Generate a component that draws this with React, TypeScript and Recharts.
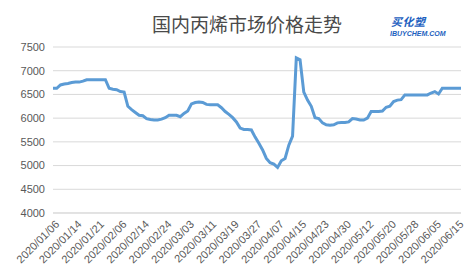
import React from "react";
import {
  LineChart,
  Line,
  XAxis,
  YAxis,
  CartesianGrid,
} from "recharts";

// trading days, 2020
const dates = [
  "2020/01/06", "2020/01/07", "2020/01/08", "2020/01/09", "2020/01/10", "2020/01/13",
  "2020/01/14", "2020/01/15", "2020/01/16", "2020/01/17", "2020/01/19", "2020/01/20",
  "2020/01/21", "2020/01/22", "2020/01/23", "2020/02/03", "2020/02/04", "2020/02/05",
  "2020/02/06", "2020/02/07", "2020/02/10", "2020/02/11", "2020/02/12", "2020/02/13",
  "2020/02/14", "2020/02/17", "2020/02/18", "2020/02/19", "2020/02/20", "2020/02/21",
  "2020/02/24", "2020/02/25", "2020/02/26", "2020/02/27", "2020/02/28", "2020/03/02",
  "2020/03/03", "2020/03/04", "2020/03/05", "2020/03/06", "2020/03/09", "2020/03/10",
  "2020/03/11", "2020/03/12", "2020/03/13", "2020/03/16", "2020/03/17", "2020/03/18",
  "2020/03/19", "2020/03/20", "2020/03/23", "2020/03/24", "2020/03/25", "2020/03/26",
  "2020/03/27", "2020/03/30", "2020/03/31", "2020/04/01", "2020/04/02", "2020/04/03",
  "2020/04/07", "2020/04/08", "2020/04/09", "2020/04/10", "2020/04/13", "2020/04/14",
  "2020/04/15", "2020/04/16", "2020/04/17", "2020/04/20", "2020/04/21", "2020/04/22",
  "2020/04/23", "2020/04/24", "2020/04/26", "2020/04/27", "2020/04/28", "2020/04/29",
  "2020/04/30", "2020/05/06", "2020/05/07", "2020/05/08", "2020/05/09", "2020/05/11",
  "2020/05/12", "2020/05/13", "2020/05/14", "2020/05/15", "2020/05/18", "2020/05/19",
  "2020/05/20", "2020/05/21", "2020/05/22", "2020/05/25", "2020/05/26", "2020/05/27",
  "2020/05/28", "2020/05/29", "2020/06/01", "2020/06/02", "2020/06/03", "2020/06/04",
  "2020/06/05", "2020/06/08", "2020/06/09", "2020/06/10", "2020/06/11", "2020/06/12",
  "2020/06/15", "2020/06/16",
];

// 丙烯价格 (元/吨)
const prices = [
  6630, 6630, 6700, 6720, 6730, 6750, 6760, 6760, 6780, 6810,
  6810, 6810, 6810, 6810, 6810, 6630, 6610, 6600, 6560, 6550,
  6250, 6180, 6120, 6060, 6050, 5990, 5970, 5960, 5960, 5980,
  6010, 6060, 6060, 6060, 6030, 6100, 6150, 6300, 6330, 6340,
  6330, 6290, 6280, 6280, 6280, 6220, 6140, 6080, 6010, 5920,
  5790, 5760, 5760, 5750, 5600, 5470, 5330, 5150, 5060, 5030,
  4960, 5100, 5150, 5430, 5620, 7270, 7230, 6550, 6380, 6250,
  6010, 5990, 5900, 5860, 5850, 5860, 5900, 5910, 5910, 5920,
  5990, 5980, 5960, 5960, 6000, 6140, 6140, 6140, 6150, 6230,
  6250, 6350, 6380, 6390, 6490, 6490, 6490, 6490, 6490, 6490,
  6490, 6530, 6560, 6510, 6630, 6630, 6630, 6630, 6630, 6630,
];

const xTicks = [
  "2020/01/06", "2020/01/14", "2020/01/21", "2020/02/06", "2020/02/14",
  "2020/02/24", "2020/03/03", "2020/03/11", "2020/03/19", "2020/03/27",
  "2020/04/07", "2020/04/15", "2020/04/23", "2020/04/30", "2020/05/12",
  "2020/05/20", "2020/05/28", "2020/06/05", "2020/06/15",
];

const yTicks = [4000, 4500, 5000, 5500, 6000, 6500, 7000, 7500];

const data = dates.map((d, i) => ({ date: d, price: prices[i] }));

const DateTick = ({ x, y, payload }: any) => {
  const tx = x + 7;
  const ty = y + 4;
  return (
    <text
      x={tx}
      y={ty}
      textAnchor="end"
      fontSize={11}
      fill="#595959"
      fontFamily="'Liberation Sans', Arial, sans-serif"
      transform={`rotate(-45, ${tx}, ${ty})`}
    >
      {payload.value}
    </text>
  );
};

export default function App() {
  return (
    <div
      style={{
        position: "absolute",
        left: 0,
        top: 0,
        width: 472,
        height: 280,
        background: "#fff",
        fontFamily: "'Liberation Sans', Arial, sans-serif",
      }}
    >
      <div
        style={{
          position: "absolute",
          left: 0,
          width: 494,
          top: 10,
          textAlign: "center",
          fontFamily: "'Noto Sans CJK SC', sans-serif",
          fontSize: 19,
          lineHeight: "28px",
          color: "#4a4a4a",
        }}
      >
        国内丙烯市场价格走势
      </div>
      <div
        style={{
          position: "absolute",
          left: 391,
          top: 15,
          color: "#1d5fc0",
          fontStyle: "italic",
          fontWeight: 700,
          fontFamily: "'Noto Sans CJK SC', sans-serif",
          fontSize: 11,
          lineHeight: "12px",
          letterSpacing: 0.5,
        }}
      >
        买化塑
      </div>
      <div
        style={{
          position: "absolute",
          left: 390,
          top: 29.5,
          color: "#1d5fc0",
          fontStyle: "italic",
          fontWeight: 700,
          fontSize: 7,
          lineHeight: "7px",
        }}
      >
        IBUYCHEM.COM
      </div>
      <LineChart
        width={472}
        height={280}
        data={data}
        margin={{ top: 47, right: 11, bottom: 0, left: 0 }}
      >
        <CartesianGrid vertical={false} stroke="#d9d9d9" />
        <XAxis
          dataKey="date"
          ticks={xTicks}
          interval={0}
          axisLine={{ stroke: "#d9d9d9" }}
          tickLine={false}
          tick={<DateTick />}
          height={67}
        />
        <YAxis
          domain={[4000, 7500]}
          ticks={yTicks}
          interval={0}
          width={53}
          axisLine={false}
          tickLine={false}
          tick={{ fontSize: 11, fill: "#595959" }}
        />
        <Line
          type="linear"
          dataKey="price"
          stroke="#5b9bd5"
          strokeWidth={3}
          dot={false}
          isAnimationActive={false}
        />
      </LineChart>
    </div>
  );
}
